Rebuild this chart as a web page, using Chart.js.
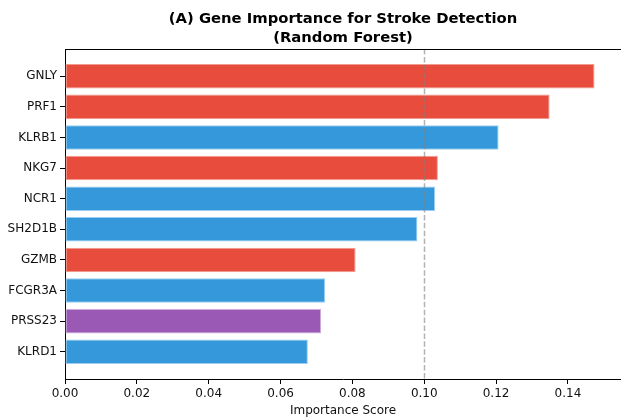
<!DOCTYPE html>
<html>
<head>
<meta charset="utf-8">
<script src="https://cdn.jsdelivr.net/npm/chart.js@4/dist/chart.umd.min.js"></script>
<style>
html,body{margin:0;padding:0;background:#fff;}
#wrap{width:621px;height:419px;position:relative;}
</style>
</head>
<body>
<div id="wrap"><canvas id="c" width="621" height="419"></canvas></div>
<script>
const genes = ["GNLY","PRF1","KLRB1","NKG7","NCR1","SH2D1B","GZMB","FCGR3A","PRSS23","KLRD1"];
const importance = [0.1474,0.1349,0.1207,0.1038,0.1030,0.0981,0.0809,0.0724,0.0713,0.0676];
const groups = ["red","red","blue","red","blue","blue","red","blue","purple","blue"];
const xTicks = [0,0.02,0.04,0.06,0.08,0.10,0.12,0.14];
const threshold = 0.10;
const titleLines = ["(A) Gene Importance for Stroke Detection","(Random Forest)"];
const xLabel = "Importance Score";

const palette = {red:"#E74C3C", blue:"#3498DB", purple:"#9B59B6"};
const edge = {red:"#F39A90", blue:"#9ACDEF", purple:"#CDACDB"};
const FONT = "'DejaVu Sans', sans-serif";

const n = genes.length;
const yMin = -0.4 - 0.05*(n-1+0.8);
const yMax = (n-1)+0.4 + 0.05*(n-1+0.8);
const xMax = Math.max(...importance)*1.05;

const extras = {
  id:'extras',
  afterDatasetsDraw(chart){
    const {ctx, chartArea:a, scales} = chart;
    ctx.save();
    const px = Math.round(scales.x.getPixelForValue(threshold))+0.5;
    ctx.strokeStyle = 'rgba(128,128,128,0.6)';
    ctx.lineWidth = 1.5;
    ctx.setLineDash([5.5,2.4]);
    ctx.beginPath(); ctx.moveTo(px,a.top); ctx.lineTo(px,a.bottom); ctx.stroke();
    ctx.setLineDash([]);
    ctx.strokeStyle = '#000'; ctx.lineWidth = 1;
    ctx.beginPath();
    ctx.moveTo(a.left, a.top+0.5); ctx.lineTo(a.right, a.top+0.5);
    ctx.stroke();
    ctx.restore();
  },
  afterDraw(chart){
    const {ctx, chartArea:a} = chart;
    ctx.save();
    ctx.fillStyle = '#000';
    ctx.font = "bold 14.8px " + FONT;
    ctx.textAlign = 'center'; ctx.textBaseline = 'middle';
    const cx = (a.left + a.right)/2;
    ctx.fillText(titleLines[0], cx, 19);
    ctx.fillText(titleLines[1], cx, 38);
    ctx.restore();
  }
};

new Chart(document.getElementById('c'), {
  type:'bar',
  data:{
    datasets:[{
      data: importance.map((v,i)=>({x:v, y:i})),
      backgroundColor: groups.map(g=>palette[g]),
      borderColor: groups.map(g=>edge[g]),
      borderWidth: 1,
      borderSkipped: false,
      barPercentage: 1.0,
      categoryPercentage: 0.8
    }]
  },
  options:{
    indexAxis:'y',
    responsive:false,
    animation:false,
    layout:{padding:{top:49,left:0,right:0,bottom:0}},
    plugins:{legend:{display:false}, tooltip:{enabled:false}, title:{display:false}},
    scales:{
      x:{
        type:'linear', min:0, max:xMax, offset:false,
        afterBuildTicks(s){ s.ticks = xTicks.map(v=>({value:v})); },
        afterFit(s){ s.height = 40; },
        grid:{drawOnChartArea:false, drawTicks:true, tickLength:5, color:'#000', offset:false},
        border:{display:true, color:'#000', width:1},
        ticks:{color:'#111', padding:3, maxRotation:0, autoSkip:false,
          font:{family:FONT, size:12},
          callback:(v)=>Number(v).toFixed(2)},
        title:{display:true, text:xLabel, color:'#111', font:{family:FONT, size:12}, padding:{top:0,bottom:1}}
      },
      y:{
        type:'linear', min:yMin, max:yMax, reverse:true, offset:false,
        afterBuildTicks(s){ s.ticks = genes.map((g,i)=>({value:i})); },
        afterFit(s){ s.width = 65; },
        grid:{drawOnChartArea:false, drawTicks:true, tickLength:5, color:'#000', offset:false},
        border:{display:true, color:'#000', width:1},
        ticks:{color:'#111', padding:3, autoSkip:false,
          font:{family:FONT, size:12},
          callback:(v)=>genes[v] ?? ''}
      }
    }
  },
  plugins:[extras]
});
</script>
</body>
</html>
